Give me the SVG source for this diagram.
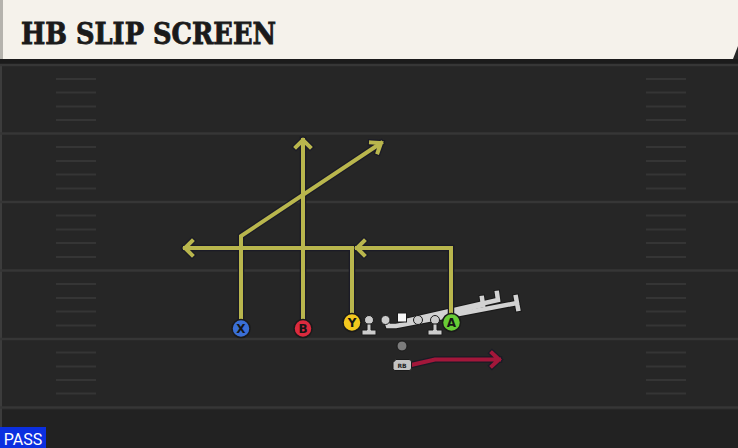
<svg xmlns="http://www.w3.org/2000/svg" xmlns:xlink="http://www.w3.org/1999/xlink" width="738" height="448" viewBox="0 0 738 448">
<style>
.yard{stroke:#363636;stroke-width:2.5}
.hash{stroke:#353535;stroke-width:2}
.out{fill:none;stroke:#1b1b26;stroke-width:6.5;stroke-linejoin:miter;stroke-linecap:square}
.rt{fill:none;stroke:#b9b64d;stroke-width:4;stroke-linejoin:miter;stroke-linecap:square}
.rb{fill:none;stroke:#a3173a;stroke-width:4;stroke-linejoin:miter;stroke-linecap:square}
.ol{fill:none;stroke:#1a1a1a;stroke-width:6.5;stroke-linecap:square}
.gl{fill:none;stroke:#d2d2d2;stroke-width:4.5;stroke-linecap:square}
.gray{fill:#cccccc;stroke:#1a1a1a;stroke-width:1}
.node{stroke:#1a1a1a;stroke-width:1.5}
.lbl{font-family:"DejaVu Sans","Liberation Sans",sans-serif;font-weight:bold;font-size:12px;fill:#151515;text-anchor:middle}
</style>
<defs>
<path id="rX" d="M241,328 V236 L381,143 M371,142.4 L381,143 L377.7,152.4"/>
<path id="rB" d="M303,328 V140 M296,147 L303,140 L310,147"/>
<path id="rY" d="M352,322 V248 H185 M192,241 L185,248 L192,255"/>
<path id="rA" d="M451,322 V248 H357 M364,241 L357,248 L364,255"/>
<path id="rR" d="M411,365 L435,359.5 H499 M492,353 L499,359.5 L492,366"/>
<path id="b1" d="M386,320 L388,326 L396,326 L517,303 M515.9,297 L518.1,309"/>
<path id="b2" d="M418,320 L483,305 L482,298"/>
<path id="b3" d="M406,321 L498,300 L497,293"/>
</defs>
<rect width="738" height="448" fill="#262626"/>
<rect y="410" width="738" height="38" fill="#222"/>
<rect x="0" y="60" width="2" height="388" fill="#3c3c3c"/>
<g id="field">
<rect y="59" width="738" height="5" fill="#1b1b1b"/>
<line class="yard" x1="0" y1="65" x2="738" y2="65"/>
<line class="yard" x1="0" y1="133.5" x2="738" y2="133.5"/>
<line class="yard" x1="0" y1="202" x2="738" y2="202"/>
<line class="yard" x1="0" y1="270.5" x2="738" y2="270.5"/>
<line class="yard" x1="0" y1="339" x2="738" y2="339"/>
<line class="yard" x1="0" y1="407.5" x2="738" y2="407.5"/>
<g id="hashes-left">
<path class="hash" d="M56,79H96M56,92.5H96M56,106.5H96M56,120H96M56,147H96M56,161H96M56,174.5H96M56,188.5H96M56,215.5H96M56,229.5H96M56,243H96M56,257H96M56,284H96M56,298H96M56,311.5H96M56,325.5H96M56,352.5H96M56,366.5H96M56,380H96M56,393.5H96"/>
</g>
<g id="hashes-right">
<path class="hash" d="M646,79H686M646,92.5H686M646,106.5H686M646,120H686M646,147H686M646,161H686M646,174.5H686M646,188.5H686M646,215.5H686M646,229.5H686M646,243H686M646,257H686M646,284H686M646,298H686M646,311.5H686M646,325.5H686M646,352.5H686M646,366.5H686M646,380H686M646,393.5H686"/>
</g>
</g>
<g id="title">
<polygon points="0,0 738,0 738,46 733,59 0,59" fill="#f5f2eb"/>
<rect x="0" y="0" width="3" height="59" fill="#b5b3ad"/>
<text x="21" y="44" font-family="'DejaVu Serif Condensed','DejaVu Serif',serif" font-weight="900" font-size="30" fill="#1a1a1a" stroke="#1a1a1a" stroke-width="0.8" textLength="255" lengthAdjust="spacingAndGlyphs">HB SLIP SCREEN</text>
</g>
<g id="connectors">
<use xlink:href="#b1" class="ol"/><use xlink:href="#b2" class="ol"/><use xlink:href="#b3" class="ol"/>
<use xlink:href="#b1" class="gl"/><use xlink:href="#b2" class="gl"/><use xlink:href="#b3" class="gl"/>
<use xlink:href="#rX" class="out"/><use xlink:href="#rB" class="out"/><use xlink:href="#rY" class="out"/><use xlink:href="#rA" class="out"/><use xlink:href="#rR" class="out"/>
<use xlink:href="#rX" class="rt"/><use xlink:href="#rB" class="rt"/><use xlink:href="#rY" class="rt"/><use xlink:href="#rA" class="rt"/><use xlink:href="#rR" class="rb"/>
</g>
<g id="LT"><circle class="gray" cx="369" cy="320" r="4.5"/><path class="gray" d="M367,324 H371 V330 H376 V335 H362 V330 H367 Z"/></g>
<g id="LG"><circle class="gray" cx="385.5" cy="320" r="4.5"/></g>
<g id="C"><rect x="397.5" y="313" width="9" height="9" fill="#f6f6f6" stroke="#1a1a1a" stroke-width="1"/></g>
<g id="RG"><circle class="gray" cx="418" cy="320" r="4.5"/></g>
<g id="RT"><circle class="gray" cx="435" cy="320" r="4.5"/><path class="gray" d="M433,324 H437 V330 H442 V335 H428 V330 H433 Z"/></g>
<g id="QB"><circle cx="402" cy="346" r="5" fill="#7c7c7c" stroke="#1a1a1a" stroke-width="1"/></g>
<g id="RB"><path d="M396,359.5 H409 Q411.5,359.5 411.5,362 V368 Q411.5,370.5 409,370.5 H395 Q393,370.5 393,368.5 V362.5 Z" fill="#c3c3c3" stroke="#1a1a1a" stroke-width="1"/><text x="402" y="368" font-family="'DejaVu Sans',sans-serif" font-weight="bold" font-size="6" fill="#222" text-anchor="middle">RB</text></g>
<g id="X"><circle class="node" cx="241" cy="328.5" r="9" fill="#3a6fd6"/><text class="lbl" x="241" y="332.8">X</text></g>
<g id="B"><circle class="node" cx="303" cy="328.5" r="9" fill="#dc2a3e"/><text class="lbl" x="303" y="332.8">B</text></g>
<g id="Y"><circle class="node" cx="352" cy="322.5" r="9" fill="#f4c81e"/><text class="lbl" x="352" y="326.8">Y</text></g>
<g id="A"><circle class="node" cx="451.5" cy="322.5" r="9" fill="#68cc36"/><text class="lbl" x="451.5" y="326.8">A</text></g>
<g id="pass">
<rect x="0" y="427" width="46" height="21" fill="#0b2fe0"/>
<text x="23" y="445" font-family="Roboto,'Liberation Sans',sans-serif" font-size="16" fill="#ffffff" text-anchor="middle">PASS</text>
</g>
</svg>
